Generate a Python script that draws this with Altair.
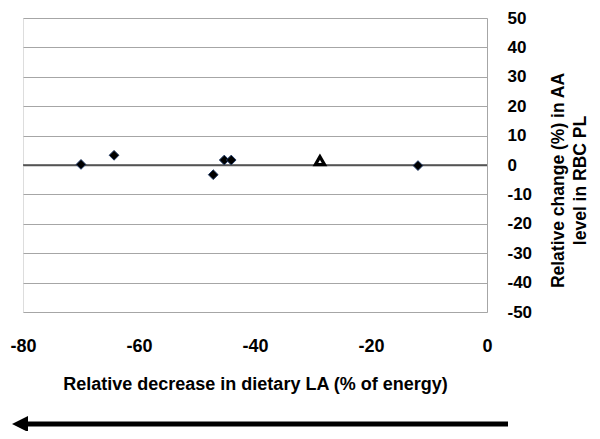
import altair as alt
import pandas as pd

# Data
diamond_x = [-70.0, -64.3, -47.2, -45.3, -44.1, -11.9]
diamond_y = [0.2, 3.3, -3.3, 1.7, 1.7, -0.2]
triangle_x = [-28.8]
triangle_y = [1.5]
zero_y = [0]

x_ticks = [-80, -60, -40, -20, 0]
y_ticks = [-50, -40, -30, -20, -10, 0, 10, 20, 30, 40, 50]

FONT = "Liberation Sans"

df_d = pd.DataFrame({"x": diamond_x, "y": diamond_y})
df_t = pd.DataFrame({"x": triangle_x, "y": triangle_y})
df_z = pd.DataFrame({"y": zero_y})

xscale = alt.Scale(domain=[-80, 0], nice=False, zero=False)
yscale = alt.Scale(domain=[-50, 50], nice=False, zero=False)

xaxis = alt.Axis(
    values=x_ticks,
    grid=False,
    domain=False,
    ticks=False,
    tickSize=0,
    labelPadding=25,
    labelOverlap=False,
    labelFlush=False,
    labelExpr="toString(datum.value)",
    labelFont=FONT,
    labelFontSize=18,
    labelFontWeight="bold",
    labelColor="black",
    title="Relative decrease in dietary LA (% of energy)",
    titleFont=FONT,
    titleFontSize=18,
    titleFontWeight="bold",
    titleColor="black",
    titleBaseline="middle",
    titleY=72,
)
yaxis = alt.Axis(
    orient="right",
    values=y_ticks,
    tickCount=11,
    grid=True,
    gridColor=alt.condition("datum.value === 0", alt.value("#555555"), alt.value("#a6a6a6")),
    gridWidth=alt.condition("datum.value === 0", alt.value(1.5), alt.value(1)),
    domain=True,
    domainColor="#a6a6a6",
    domainWidth=1,
    ticks=False,
    tickSize=0,
    labelPadding=20,
    labelAlign="left",
    labelOverlap=False,
    labelFlush=False,
    labelExpr="toString(datum.value)",
    labelFont=FONT,
    labelFontSize=17,
    labelFontWeight="bold",
    labelColor="black",
    title=["Relative change (%) in AA", "level in RBC PL"],
    titleFont=FONT,
    titleFontSize=17.5,
    titleFontWeight="bold",
    titleColor="black",
    titleAngle=270,
    titleAlign="center",
    titleBaseline="middle",
    titleLineHeight=22,
    titleX=71,
    titleY=162,
)

yenc = alt.Y("y:Q", scale=yscale, axis=yaxis)
xenc = alt.X("x:Q", scale=xscale, axis=xaxis)

zero_line = alt.Chart(df_z).mark_rule(color="#555555", strokeWidth=1.5).encode(y=yenc)

diamonds = alt.Chart(df_d).mark_point(
    shape="diamond", filled=True, size=95, color="black", stroke="#1f3864", strokeWidth=1, opacity=1
).encode(x=xenc, y=yenc)

triangles = alt.Chart(df_t).mark_point(
    shape="triangle-up", filled=True, fill="white", stroke="black", strokeWidth=3.2, size=85, opacity=1
).encode(x=xenc, y=yenc)

arrow_line = alt.Chart(df_z).mark_rule(color="black", strokeWidth=5, strokeCap="butt").encode(
    x=alt.value(-3), x2=alt.value(485), y=alt.value(406)
)
arrow_head = alt.Chart(df_z).mark_point(
    shape="M-1,0L1,-1L1,1Z", filled=True, color="black", size=256, opacity=1
).encode(x=alt.value(-3), y=alt.value(406))

chart = alt.layer(zero_line, diamonds, triangles, arrow_line, arrow_head).properties(
    width=464,
    height=294,
    autosize=alt.AutoSizeParams(type="none"),
    padding={"left": 15, "top": 10, "right": 105, "bottom": 119},
).configure_view(stroke=None).configure(background="white")

chart.save("out.html", embed_options={"renderer": "svg", "actions": False})
